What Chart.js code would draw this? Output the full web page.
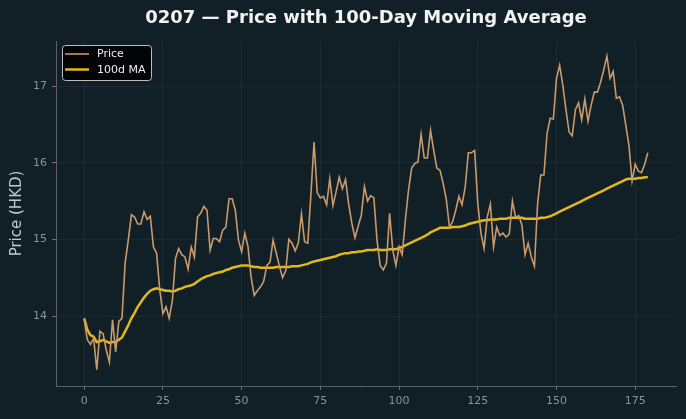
<!DOCTYPE html>
<html><head><meta charset="utf-8">
<script src="https://cdn.jsdelivr.net/npm/chart.js@4/dist/chart.umd.min.js"></script>
<style>html,body{margin:0;padding:0;background:#111f27;}#wrap{width:686px;height:419px;}</style>
</head><body><div id="wrap"><canvas id="c" width="686" height="419"></canvas></div>
<script>
const days = [0,1,2,3,4,5,6,7,8,9,10,11,12,13,14,15,16,17,18,19,20,21,22,23,24,25,26,27,28,29,30,31,32,33,34,35,36,37,38,39,40,41,42,43,44,45,46,47,48,49,50,51,52,53,54,55,56,57,58,59,60,61,62,63,64,65,66,67,68,69,70,71,72,73,74,75,76,77,78,79,80,81,82,83,84,85,86,87,88,89,90,91,92,93,94,95,96,97,98,99,100,101,102,103,104,105,106,107,108,109,110,111,112,113,114,115,116,117,118,119,120,121,122,123,124,125,126,127,128,129,130,131,132,133,134,135,136,137,138,139,140,141,142,143,144,145,146,147,148,149,150,151,152,153,154,155,156,157,158,159,160,161,162,163,164,165,166,167,168,169,170,171,172,173,174,175,176,177,178,179];
const price = [13.96,13.69,13.63,13.71,13.30,13.80,13.77,13.56,13.40,13.95,13.53,13.93,13.97,14.69,14.99,15.32,15.29,15.20,15.20,15.36,15.26,15.30,14.90,14.82,14.34,14.03,14.12,13.97,14.20,14.75,14.88,14.80,14.77,14.61,14.90,14.77,15.29,15.34,15.43,15.38,14.86,15.01,15.01,14.97,15.12,15.16,15.53,15.53,15.38,14.99,14.84,15.08,14.91,14.51,14.27,14.33,14.38,14.45,14.66,14.70,14.99,14.82,14.65,14.50,14.59,15.00,14.95,14.85,14.95,15.33,14.97,14.95,15.58,16.27,15.61,15.54,15.56,15.45,15.79,15.44,15.62,15.81,15.66,15.78,15.46,15.21,15.02,15.17,15.31,15.69,15.50,15.57,15.54,14.99,14.66,14.60,14.69,15.34,14.86,14.66,14.90,14.80,15.25,15.64,15.93,15.99,16.01,16.37,16.06,16.06,16.42,16.16,15.93,15.90,15.73,15.52,15.16,15.23,15.38,15.56,15.45,15.68,16.13,16.13,16.16,15.47,15.08,14.88,15.29,15.46,14.90,15.16,15.05,15.08,15.03,15.07,15.50,15.29,15.31,15.19,14.80,14.95,14.77,14.65,15.47,15.84,15.84,16.38,16.58,16.57,17.10,17.27,17.01,16.69,16.40,16.35,16.69,16.78,16.56,16.83,16.54,16.75,16.92,16.92,17.05,17.21,17.39,17.10,17.19,16.84,16.86,16.75,16.49,16.23,15.76,15.98,15.89,15.87,15.98,16.13];
const ma100 = [13.97,13.82,13.75,13.73,13.66,13.67,13.69,13.67,13.65,13.66,13.66,13.69,13.72,13.80,13.88,13.97,14.04,14.12,14.18,14.24,14.29,14.33,14.35,14.36,14.35,14.34,14.33,14.33,14.32,14.33,14.35,14.36,14.38,14.39,14.40,14.42,14.45,14.48,14.50,14.52,14.53,14.55,14.56,14.57,14.58,14.60,14.61,14.63,14.64,14.65,14.66,14.66,14.66,14.65,14.64,14.64,14.63,14.63,14.63,14.63,14.63,14.64,14.64,14.64,14.64,14.64,14.65,14.65,14.65,14.66,14.67,14.68,14.70,14.71,14.72,14.73,14.74,14.75,14.76,14.77,14.78,14.80,14.81,14.82,14.82,14.83,14.83,14.84,14.84,14.85,14.86,14.86,14.86,14.87,14.86,14.86,14.86,14.87,14.87,14.87,14.89,14.90,14.92,14.94,14.96,14.98,15.00,15.02,15.04,15.06,15.09,15.11,15.13,15.15,15.15,15.15,15.15,15.16,15.16,15.16,15.17,15.18,15.20,15.21,15.22,15.23,15.24,15.25,15.25,15.26,15.26,15.26,15.27,15.27,15.27,15.28,15.28,15.28,15.28,15.28,15.27,15.27,15.27,15.27,15.27,15.28,15.28,15.29,15.30,15.32,15.34,15.36,15.38,15.40,15.42,15.44,15.46,15.48,15.50,15.52,15.54,15.56,15.58,15.60,15.62,15.64,15.66,15.68,15.70,15.72,15.74,15.76,15.78,15.79,15.79,15.79,15.80,15.80,15.81,15.81];
const xTicks = [0,25,50,75,100,125,150,175];
const yTicks = [14,15,16,17];
const titleText = '0207 — Price with 100-Day Moving Average';

const BG = '#111f27';
const FONT = "'DejaVu Sans', sans-serif";

const bgPlugin = {
  id: 'bg',
  beforeDraw(chart) {
    const ctx = chart.ctx;
    ctx.save();
    ctx.fillStyle = BG;
    ctx.fillRect(0, 0, chart.width, chart.height);
    ctx.restore();
  },
  afterDraw(chart) {
    const ctx = chart.ctx;
    const ca = chart.chartArea;
    ctx.save();
    // title
    ctx.fillStyle = '#f2f2f2';
    ctx.font = 'bold 18px ' + FONT;
    ctx.textAlign = 'center';
    ctx.textBaseline = 'middle';
    ctx.fillText(titleText, (ca.left + ca.right) / 2, 18.5);
    // legend box
    const bx = 62.5, by = 45.5, bw = 89, bh = 35, r = 3;
    ctx.beginPath();
    ctx.moveTo(bx + r, by);
    ctx.lineTo(bx + bw - r, by);
    ctx.quadraticCurveTo(bx + bw, by, bx + bw, by + r);
    ctx.lineTo(bx + bw, by + bh - r);
    ctx.quadraticCurveTo(bx + bw, by + bh, bx + bw - r, by + bh);
    ctx.lineTo(bx + r, by + bh);
    ctx.quadraticCurveTo(bx, by + bh, bx, by + bh - r);
    ctx.lineTo(bx, by + r);
    ctx.quadraticCurveTo(bx, by, bx + r, by);
    ctx.closePath();
    ctx.fillStyle = 'rgba(0,0,0,0.85)';
    ctx.fill();
    ctx.strokeStyle = '#bdbdbd';
    ctx.lineWidth = 1;
    ctx.stroke();
    const rows = [54, 69.5];
    chart.data.datasets.forEach((ds, i) => {
      const y = rows[i];
      ctx.beginPath();
      ctx.moveTo(65, y);
      ctx.lineTo(89, y);
      ctx.strokeStyle = ds.borderColor;
      ctx.lineWidth = ds.borderWidth;
      ctx.stroke();
      ctx.fillStyle = '#eeeeee';
      ctx.font = '11px ' + FONT;
      ctx.textAlign = 'left';
      ctx.textBaseline = 'middle';
      ctx.fillText(ds.label, 97, y + 0.5);
    });
    ctx.restore();
  }
};

new Chart(document.getElementById('c'), {
  type: 'line',
  data: {
    datasets: [
      { label: 'Price', data: days.map((d, i) => ({ x: d, y: price[i] })), borderColor: '#c99a6c', borderWidth: 1.6, pointRadius: 0, tension: 0, fill: false },
      { label: '100d MA', data: days.map((d, i) => ({ x: d, y: ma100[i] })), borderColor: '#e2b81a', borderWidth: 2.5, pointRadius: 0, tension: 0, fill: false }
    ]
  },
  options: {
    responsive: false,
    animation: false,
    devicePixelRatio: 1,
    layout: { padding: { top: 41, right: 10, left: 0, bottom: 0 } },
    plugins: { legend: { display: false }, title: { display: false }, tooltip: { enabled: false } },
    scales: {
      x: {
        type: 'linear',
        min: -8.95, max: 187.95,
        afterBuildTicks(s) { s.ticks = xTicks.map(v => ({ value: v })); },
        afterFit(s) { s.height = 33; },
        grid: { color: 'rgba(255,255,255,0.05)', tickColor: '#6b7378', tickLength: 4, drawOnChartArea: true },
        border: { display: true, color: '#5a6266', width: 1 },
        ticks: { color: '#8a9399', font: { family: FONT, size: 11 }, padding: 5, maxRotation: 0, autoSkip: false }
      },
      y: {
        type: 'linear',
        min: 13.087, max: 17.587,
        afterBuildTicks(s) { s.ticks = yTicks.map(v => ({ value: v })); },
        afterFit(s) { s.width = 56; },
        grid: { color: 'rgba(255,255,255,0.05)', tickColor: '#6b7378', tickLength: 4 },
        border: { display: true, color: '#5a6266', width: 1 },
        ticks: { color: '#8a9399', font: { family: FONT, size: 11 }, padding: 5, autoSkip: false },
        title: { display: true, text: 'Price (HKD)', color: '#c3cacd', font: { family: FONT, size: 15 }, padding: { top: 8, bottom: 0 } }
      }
    }
  },
  plugins: [bgPlugin]
});
</script>
</body></html>
